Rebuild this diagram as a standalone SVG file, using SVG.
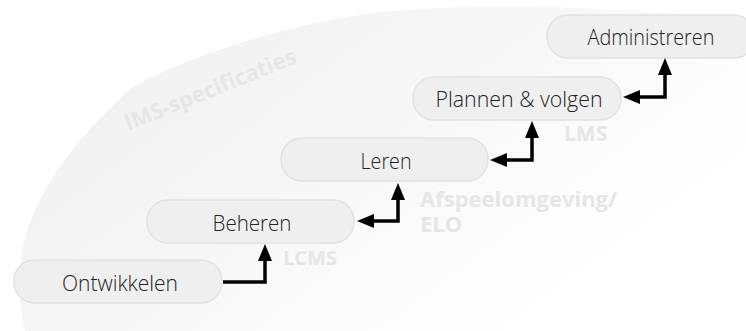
<svg xmlns="http://www.w3.org/2000/svg" width="746" height="331" viewBox="0 0 746 331">
<style>
.box{fill:#efefef;stroke:#e2e2e2;stroke-width:1.5}
.lbl{font-family:"Open Sans","Noto Sans",sans-serif;font-size:22px;font-weight:300;fill:#222;text-anchor:middle}
.wm{font-family:"Open Sans","Noto Sans",sans-serif;font-weight:bold;fill:#e6e6e6}
.con{fill:none;stroke:#000;stroke-width:3.5}
</style>
<defs>
<linearGradient id="bg" x1="0" y1="0.2" x2="1" y2="0.8">
<stop offset="0" stop-color="#f0f0f0"/>
<stop offset="0.45" stop-color="#f7f7f7"/>
<stop offset="0.85" stop-color="#ffffff"/>
</linearGradient>
<marker id="ah" viewBox="0 0 17 14" refX="1" refY="7" markerWidth="17" markerHeight="14" markerUnits="userSpaceOnUse" orient="auto-start-reverse">
<path d="M0,0 L17,7 L0,14 Z" fill="#000"/>
</marker>
</defs>
<rect width="746" height="331" fill="#fff"/>
<path d="M 25 331 C 15 290, 18 240, 40 200 C 60 160, 95 120, 133 87 C 180 60, 280 25, 373 13 C 430 6, 520 5, 600 9 C 660 12, 720 18, 746 22 L 746 331 Z" fill="url(#bg)"/>
<g id="watermarks">
<text class="wm" font-size="22" transform="translate(128,131) rotate(-22)">IMS-specificaties</text>
<text class="wm" font-size="20" x="283" y="265">LCMS</text>
<text class="wm" font-size="21" x="564" y="141">LMS</text>
<text class="wm" font-size="22" x="420" y="207">Afspeelomgeving/</text>
<text class="wm" font-size="22" x="420" y="232">ELO</text>
</g>
<g id="ontwikkelen">
<rect class="box" x="14" y="260" width="208" height="43" rx="21"/>
<text class="lbl" x="120" y="291" textLength="116" lengthAdjust="spacingAndGlyphs">Ontwikkelen</text>
</g>
<g id="beheren">
<rect class="box" x="147" y="200" width="207" height="43" rx="21"/>
<text class="lbl" x="252" y="231" textLength="79" lengthAdjust="spacingAndGlyphs">Beheren</text>
</g>
<g id="leren">
<rect class="box" x="281" y="138" width="207" height="43" rx="21"/>
<text class="lbl" x="386" y="169" textLength="51" lengthAdjust="spacingAndGlyphs">Leren</text>
</g>
<g id="plannen">
<rect class="box" x="413" y="77" width="208" height="43" rx="21"/>
<text class="lbl" x="519" y="107" textLength="167" lengthAdjust="spacingAndGlyphs">Plannen &amp; volgen</text>
</g>
<g id="administreren">
<rect class="box" x="547" y="15" width="208" height="43" rx="21"/>
<text class="lbl" x="651" y="45" textLength="127" lengthAdjust="spacingAndGlyphs">Administreren</text>
</g>
<g id="connectors">
<path class="con" d="M 223 282 H 265 V 260" marker-end="url(#ah)"/>
<path class="con" d="M 373 221 H 398 V 199" marker-start="url(#ah)" marker-end="url(#ah)"/>
<path class="con" d="M 506 160 H 532 V 137" marker-start="url(#ah)" marker-end="url(#ah)"/>
<path class="con" d="M 639 97 H 665 V 74" marker-start="url(#ah)" marker-end="url(#ah)"/>
</g>
</svg>
